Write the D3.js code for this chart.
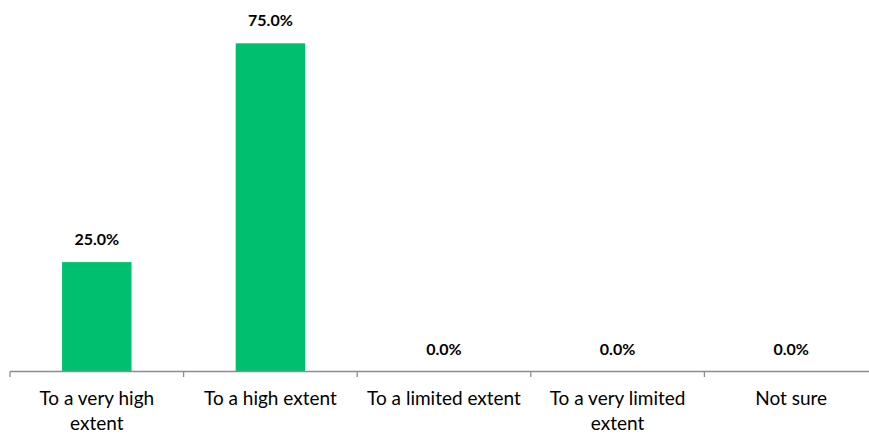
<!DOCTYPE html>
<html><head><meta charset="utf-8">
<script src="https://cdn.jsdelivr.net/npm/d3@7"></script>
<style>body{margin:0;background:#fff;} svg{display:block;}</style>
</head><body>
<svg id="chart" width="869" height="434"></svg>
<script>
const categories = [["To a very high","extent"],["To a high extent"],["To a limited extent"],["To a very limited","extent"],["Not sure"]];
const values = [0.25, 0.75, 0.0, 0.0, 0.0];
const labels = ["25.0%","75.0%","0.0%","0.0%","0.0%"];

const svg = d3.select("#chart");
const keys = categories.map((c,i)=>i);
const x = d3.scaleBand().domain(keys).range([10, 878]).paddingInner(0.6).paddingOuter(0.3);
const xb = d3.scaleBand().domain(keys).range([10, 878]);
const y = d3.scaleLinear().domain([0, 0.75]).range([371.5, 43.3]);

svg.selectAll("rect.bar").data(values).enter().append("rect")
  .attr("x",(d,i)=>x(i)).attr("width",x.bandwidth())
  .attr("y",d=>y(d)).attr("height",d=>y(0)-y(d))
  .attr("fill","#00BF6F");

svg.selectAll("text.val").data(values).enter().append("text")
  .attr("x",(d,i)=>x(i)+x.bandwidth()/2).attr("y",d=>y(d)-17)
  .attr("text-anchor","middle").attr("font-family","Lato, 'Open Sans', sans-serif")
  .attr("font-weight","bold").attr("font-size",16).attr("fill","#000")
  .text((d,i)=>labels[i]);

const axisColor = "#8c8c8c";
svg.append("line").attr("x1",10).attr("x2",878).attr("y1",y(0)).attr("y2",y(0))
  .attr("stroke",axisColor).attr("stroke-width",1.3);
const tickPos = keys.map(i=>xb(i)).concat([878]);
svg.selectAll("line.tick").data(tickPos).enter().append("line")
  .attr("x1",d=>d).attr("x2",d=>d).attr("y1",y(0)).attr("y2",y(0)+5.5)
  .attr("stroke",axisColor).attr("stroke-width",1.3);

const lab = svg.selectAll("text.cat").data(categories).enter().append("text")
  .attr("text-anchor","middle").attr("font-family","Lato, 'Open Sans', sans-serif")
  .attr("font-size",19).attr("fill","#000");
lab.each(function(c,i){
  const t = d3.select(this);
  c.forEach((line,j)=>{
    t.append("tspan").attr("x",xb(i)+xb.bandwidth()/2).attr("y",405+j*24.5).text(line);
  });
});
</script>
</body></html>
